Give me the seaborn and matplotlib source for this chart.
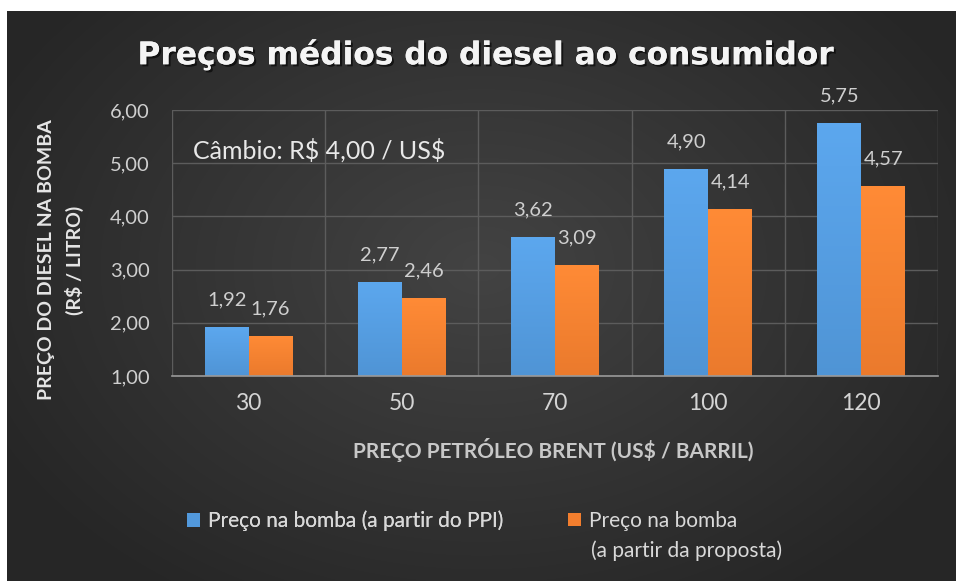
import numpy as np
import pandas as pd
import matplotlib
matplotlib.use("Agg")
import matplotlib.pyplot as plt
import seaborn as sns
from matplotlib import patheffects as pe
from matplotlib.patches import Patch
from matplotlib.colors import to_rgb

# ---------------- data ----------------
brent = ["30", "50", "70", "100", "120"]
ppi = [1.92, 2.77, 3.62, 4.90, 5.75]
proposta = [1.76, 2.46, 3.09, 4.14, 4.57]
series = ["Preço na bomba (a partir do PPI)", "Preço na bomba (a partir da proposta)"]
yticks = [1, 2, 3, 4, 5, 6]
ytick_labels = ["1,00", "2,00", "3,00", "4,00", "5,00", "6,00"]
title = "Preços médios do diesel ao consumidor"
note = "Câmbio: R$ 4,00 / US$"
xlabel = "PREÇO PETRÓLEO BRENT (US$ / BARRIL)"
ylabel = "PREÇO DO DIESEL NA BOMBA\n(R$ / LITRO)"

BLUE = "#5299DC"
ORANGE = "#F27E2E"

sns.set_style("dark")
plt.rcParams["font.family"] = ["Lato", "DejaVu Sans"]
plt.rcParams["text.parse_math"] = False

W, H = 956, 583
fig = plt.figure(figsize=(W / 100, H / 100), dpi=100, facecolor="white")

# ---------- background (radial dark gradient) ----------
bg = fig.add_axes([7 / W, 2 / H, 949 / W, 570 / H], zorder=-10)
gy, gx = np.mgrid[0:1:570j, 0:1:949j]
r = np.sqrt(((gx - 0.5) / 0.75) ** 2 + ((gy - 0.45) / 0.9) ** 2)
r = np.clip(r / 0.75, 0, 1)
c_center = np.array([0x43, 0x43, 0x43]) / 255
c_edge = np.array([0x27, 0x27, 0x27]) / 255
img = c_center[None, None, :] * (1 - r[..., None]) + c_edge[None, None, :] * r[..., None]
bg.imshow(img, aspect="auto", extent=[0, 1, 0, 1], origin="upper")
bg.set_axis_off()

# ---------- main axes ----------
ax = fig.add_axes([172 / W, (H - 376) / H, 766 / W, 266 / H])
ax.patch.set_alpha(0)

df = pd.DataFrame({
    "brent": brent * 2,
    "preco": ppi + proposta,
    "serie": [series[0]] * len(brent) + [series[1]] * len(brent),
})
sns.barplot(data=df, x="brent", y="preco", hue="serie", order=brent,
            hue_order=series, palette=[BLUE, ORANGE], width=0.574,
            saturation=1, ax=ax, legend=False, linewidth=0, edgecolor="none")

YMIN, YMAX = yticks[0], yticks[-1]

# vertical gradient on bars (restricted to visible range)
for bar in list(ax.patches):
    x0, w = bar.get_x(), bar.get_width()
    h = bar.get_height()
    if w <= 0 or h <= YMIN:
        continue
    base = np.array(to_rgb(bar.get_facecolor()))
    top = np.clip(base * 1.06 + 0.02, 0, 1)
    bottom = np.clip(base * 0.97, 0, 1)
    t = np.linspace(0, 1, 64)[:, None, None]
    grad = top[None, None, :] * (1 - t) + bottom[None, None, :] * t
    im = ax.imshow(grad, extent=[x0, x0 + w, YMIN, h], aspect="auto",
                   origin="upper", zorder=bar.get_zorder() + 0.1)
    im.set_clip_path(bar)

# data labels
for bar in ax.patches:
    h = bar.get_height()
    if h <= 0:
        continue
    ax.annotate(f"{h:.2f}".replace(".", ","),
                xy=(bar.get_x() + bar.get_width() / 2, h),
                xytext=(0, 19.5), textcoords="offset points",
                ha="center", va="center", fontsize=14.5, color="#cfcfcf", zorder=5)

ax.set_xlim(-0.5, len(brent) - 0.5)
ax.set_ylim(YMIN, YMAX)
ax.set_yticks(yticks)
ax.set_yticklabels(ytick_labels)
ax.set_xticks(np.arange(-0.5, len(brent), 1), minor=True)
ax.tick_params(axis="y", length=0, pad=16, labelsize=14.5, colors="#cfcfcf")
ax.tick_params(axis="x", which="major", length=0, pad=12, labelsize=16.5, colors="#d4d4d4")
ax.tick_params(axis="x", which="minor", length=0)
ax.set_xlabel("")
ax.set_ylabel("")

ax.yaxis.grid(True, color="#5c5c5c", linewidth=1)
ax.xaxis.grid(True, which="minor", color="#5c5c5c", linewidth=1)
ax.xaxis.grid(False, which="major")
ax.set_axisbelow(True)
for s in ["top", "right", "left"]:
    ax.spines[s].set_visible(False)
ax.spines["bottom"].set_visible(True)
ax.spines["bottom"].set_color("#9a9a9a")
ax.spines["bottom"].set_linewidth(1.2)
ax.spines["bottom"].set_zorder(6)

# ---------- texts ----------
fig.text(486 / W, 1 - 55 / H, title, ha="center", va="center",
         fontsize=22.5, fontweight="bold", color="#f4f4f4",
         family=["DejaVu Sans"],
         path_effects=[pe.withSimplePatchShadow(offset=(1.5, -1.5),
                                                shadow_rgbFace="black", alpha=0.6),
                       pe.Normal()])

ax.text((193 - 172) / 766, (376 - 150) / 266, note, transform=ax.transAxes,
        ha="left", va="center", fontsize=18, color="#e8e8e8")

fig.text(553 / W, 1 - 450 / H, xlabel, ha="center", va="center",
         fontsize=15, fontweight="bold", color="#c8c8c8")

fig.text(61 / W, 1 - 260 / H, ylabel, ha="center", va="center",
         rotation=90, multialignment="center", linespacing=1.6,
         fontsize=14, fontweight="bold", color="#e6e6e6")

# ---------- legend ----------
common = dict(loc="center left", frameon=False, fontsize=15, labelcolor="#d9d9d9",
              handlelength=0.62, handleheight=0.62, handletextpad=0.4,
              borderpad=0, borderaxespad=0)
leg1 = fig.legend(handles=[Patch(facecolor=BLUE, edgecolor="none")], labels=[series[0]],
                  bbox_to_anchor=(187 / W, 1 - 521 / H), **common)
fig.add_artist(leg1)
leg2 = fig.legend(handles=[Patch(facecolor=ORANGE, edgecolor="none")], labels=["Preço na bomba"],
                  bbox_to_anchor=(568 / W, 1 - 521 / H), **common)
fig.text(591 / W, 1 - 551 / H, "(a partir da proposta)", ha="left", va="center",
         fontsize=15, color="#d9d9d9")

fig.savefig("out.png", dpi=100, facecolor="white")
